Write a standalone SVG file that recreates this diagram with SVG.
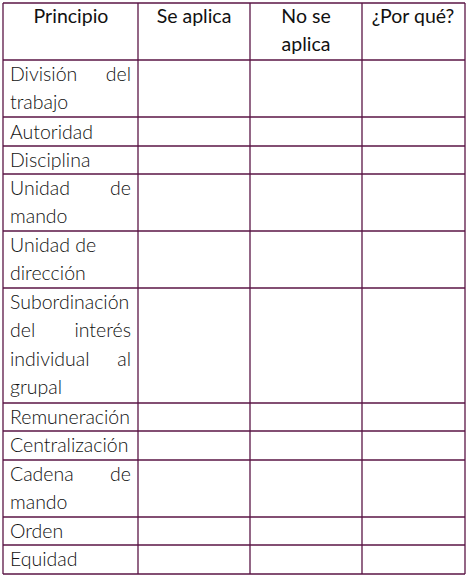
<svg xmlns="http://www.w3.org/2000/svg" width="469" height="577" viewBox="0 0 469 577">
<style>
.grid line{stroke:#5a1545;stroke-width:1.3}
text{font-family:Lato,"Open Sans","Liberation Sans",sans-serif;font-size:19.5px;fill:#111111}
.h{font-weight:400;text-anchor:middle}
.b{font-weight:300}
.r{text-anchor:end}
</style>
<rect width="469" height="577" fill="#ffffff"/>
<g id="grid" class="grid">
<line x1="3" y1="3" x2="465" y2="3"/>
<line x1="3" y1="60" x2="465" y2="60"/>
<line x1="3" y1="117" x2="465" y2="117"/>
<line x1="3" y1="146" x2="465" y2="146"/>
<line x1="3" y1="174" x2="465" y2="174"/>
<line x1="3" y1="231" x2="465" y2="231"/>
<line x1="3" y1="288" x2="465" y2="288"/>
<line x1="3" y1="403" x2="465" y2="403"/>
<line x1="3" y1="431" x2="465" y2="431"/>
<line x1="3" y1="460" x2="465" y2="460"/>
<line x1="3" y1="517" x2="465" y2="517"/>
<line x1="3" y1="545" x2="465" y2="545"/>
<line x1="3" y1="574" x2="465" y2="574"/>
<line x1="3" y1="3" x2="3" y2="574"/>
<line x1="138" y1="3" x2="138" y2="574"/>
<line x1="250" y1="3" x2="250" y2="574"/>
<line x1="362" y1="3" x2="362" y2="574"/>
<line x1="465" y1="3" x2="465" y2="574"/>
</g>
<g id="header">
<text class="h" x="71" y="23">Principio</text>
<text class="h" x="194" y="23">Se aplica</text>
<text class="h" x="306" y="23">No se</text>
<text class="h" x="306" y="51">aplica</text>
<text class="h" x="413" y="23">¿Por qué?</text>
</g>
<g id="r1" class="b"><text x="10" y="81">División</text><text class="r" x="131" y="81">del</text><text x="10" y="109">trabajo</text></g>
<g id="r2" class="b"><text x="10" y="139">Autoridad</text></g>
<g id="r3" class="b"><text x="10" y="167">Disciplina</text></g>
<g id="r4" class="b"><text x="10" y="195">Unidad</text><text class="r" x="131" y="195">de</text><text x="10" y="223">mando</text></g>
<g id="r5" class="b"><text x="10" y="252">Unidad de</text><text x="10" y="280">dirección</text></g>
<g id="r6" class="b"><text x="10" y="309">Subordinación</text><text x="10" y="337">del</text><text class="r" x="131" y="337">interés</text><text x="10" y="366">individual</text><text class="r" x="131" y="366">al</text><text x="10" y="394">grupal</text></g>
<g id="r7" class="b"><text x="10" y="424">Remuneración</text></g>
<g id="r8" class="b"><text x="10" y="452">Centralización</text></g>
<g id="r9" class="b"><text x="10" y="481">Cadena</text><text class="r" x="131" y="481">de</text><text x="10" y="509">mando</text></g>
<g id="r10" class="b"><text x="10" y="538">Orden</text></g>
<g id="r11" class="b"><text x="10" y="566">Equidad</text></g>
</svg>
